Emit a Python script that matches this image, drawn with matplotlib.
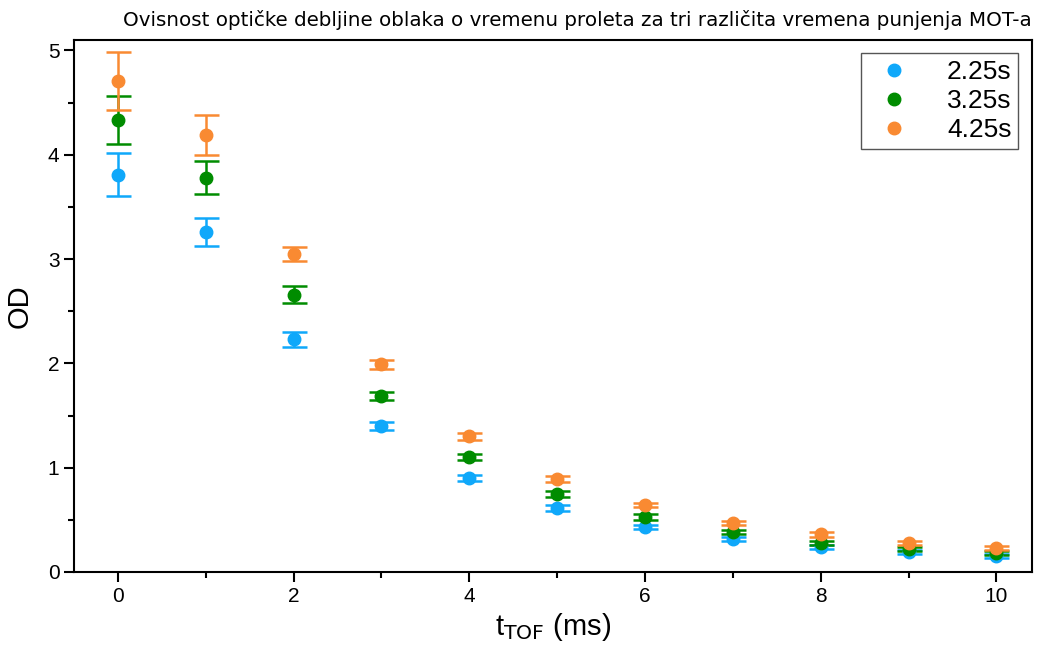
import numpy as np
import matplotlib.pyplot as plt
from matplotlib.ticker import MultipleLocator
from matplotlib.lines import Line2D

t = [0, 1, 2, 3, 4, 5, 6, 7, 8, 9, 10]
labels = ["2.25s", "3.25s", "4.25s"]
od_225 = [3.81, 3.26, 2.23, 1.40, 0.90, 0.61, 0.43, 0.32, 0.24, 0.19, 0.15]
err_225 = [0.21, 0.13, 0.07, 0.04, 0.03, 0.03, 0.02, 0.02, 0.02, 0.02, 0.02]
od_325 = [4.33, 3.78, 2.66, 1.69, 1.10, 0.75, 0.53, 0.38, 0.28, 0.22, 0.18]
err_325 = [0.23, 0.16, 0.08, 0.04, 0.03, 0.03, 0.03, 0.02, 0.02, 0.02, 0.02]
od_425 = [4.71, 4.19, 3.05, 1.99, 1.30, 0.89, 0.64, 0.47, 0.36, 0.28, 0.23]
err_425 = [0.28, 0.19, 0.07, 0.04, 0.03, 0.03, 0.02, 0.02, 0.02, 0.02, 0.02]
colors = ["#0fa8fa", "#008c00", "#f98a32"]

plt.rcParams['font.family'] = ['Liberation Sans', 'DejaVu Sans']

fig = plt.figure(figsize=(10.43, 6.46), dpi=100)
ax = fig.add_axes([0.071, 0.1146, 0.918, 0.8234])

for y, e, c in zip([od_225, od_325, od_425], [err_225, err_325, err_425], colors):
    ax.errorbar(t, y, yerr=e, fmt='o', color=c, ms=9, capsize=9, capthick=1.8,
                elinewidth=1.8)

ax.set_xlim(-0.5, 10.4)
ax.set_ylim(0, 5.1)
ax.xaxis.set_major_locator(MultipleLocator(2))
ax.xaxis.set_minor_locator(MultipleLocator(1))
ax.yaxis.set_major_locator(MultipleLocator(1))
ax.yaxis.set_minor_locator(MultipleLocator(0.5))
ax.tick_params(which='major', direction='out', length=7, width=1.5, labelsize=15)
ax.tick_params(which='minor', direction='out', length=4, width=1.5)
for s in ax.spines.values():
    s.set_linewidth(1.5)

ax.set_xlabel(r"t$_{\mathrm{TOF}}$ (ms)", fontsize=21, labelpad=4)
ax.set_ylabel("OD", fontsize=21, labelpad=10)
ax.set_title("Ovisnost optičke debljine oblaka o vremenu proleta za tri različita vremena punjenja MOT-a",
             fontsize=14.3, family='DejaVu Sans', loc='right', pad=10)

handles = [Line2D([], [], ls='none', marker='o', ms=9, color=c) for c in colors]
ax.legend(handles, labels, loc='upper right', fontsize=19, handletextpad=1.0,
          borderpad=0.25, labelspacing=0.2, fancybox=False, edgecolor='#555555',
          framealpha=1, borderaxespad=0.5)

fig.savefig("out.png", dpi=100)
